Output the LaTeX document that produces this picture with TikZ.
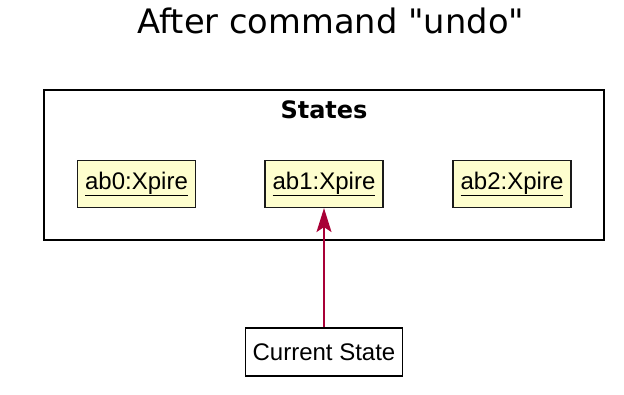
\documentclass[tikz,border=0pt]{standalone}
\usepackage{fontspec}
\setmainfont{Liberation Sans}
\newfontfamily\titlefont{DejaVu Sans}
\usetikzlibrary{arrows.meta}

\definecolor{objfill}{HTML}{FEFECE}
\definecolor{objline}{HTML}{1A1A1A}
\definecolor{pointer}{HTML}{A80036}

\tikzset{
  object/.style={draw=objline, line width=1.2pt, fill=objfill, minimum width=118pt, minimum height=47pt, inner sep=0pt, font=\fontsize{24}{28}\selectfont},
  plain/.style={draw=black, line width=1.2pt, fill=white, minimum width=157pt, minimum height=48pt, inner sep=0pt, font=\fontsize{24}{28}\selectfont},
  link/.style={draw=pointer, line width=1.6pt, -{Stealth[length=24pt, width=15pt, inset=5pt]}}
}

\begin{document}
\begin{tikzpicture}[x=1pt, y=-1pt]
\useasboundingbox (0,0) rectangle (624,395);

		% Define the title
		\node[anchor=base, inner sep=0pt, font=\titlefont\fontsize{33.7}{40}\selectfont] (title) at (331,34) {After command "undo"};

		% Define the package
		\draw[line width=2.6pt] (44,90) rectangle (604,240);
		\node[anchor=base, inner sep=0pt, font=\titlefont\bfseries\fontsize{24}{28}\selectfont] (states) at (324,119) {States};

		% Define the nodes
		\node[object] (ab0) at (136.5,184) {\underline{ab0:Xpire}};
		\node[object] (ab1) at (324,184) {\underline{ab1:Xpire}};
		\node[object] (ab2) at (512,184) {\underline{ab2:Xpire}};
		\node[plain] (current) at (324,352) {Current State};

		% Define the edges
		\draw[link] (current) -- (ab1);

	\end{tikzpicture}
\end{document}
